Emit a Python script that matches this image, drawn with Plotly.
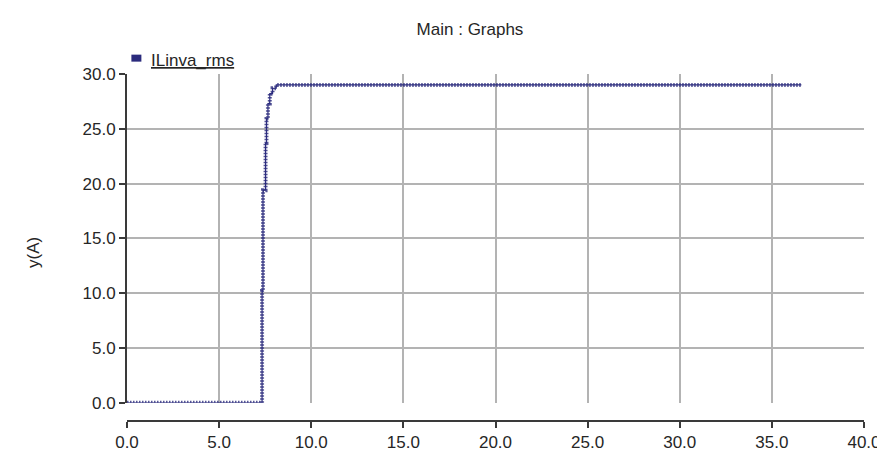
import plotly.graph_objects as go

# ---- data ----
t_s = [0.0, 7.33, 7.38, 7.52, 7.57, 7.65, 7.75, 7.9, 8.1, 36.6]
i_rms = [0.0, 10.2, 19.4, 23.7, 25.9, 27.3, 28.2, 28.7, 29.0, 29.0]
series_name = "ILinva_rms"
x_ticks = [0, 5, 10, 15, 20, 25, 30, 35, 40]
y_ticks = [0, 5, 10, 15, 20, 25, 30]

# ---- style ----
FONT = "Liberation Sans, Arial, sans-serif"
NAVY = "#2b2b7d"
TXT = "#262626"
GRID = "#b3b3b3"
AX = "#3a3a3a"

W, H = 885, 456
ML, MR, MT, MB = 119, 20, 66, 29
plot_h = H - MT - MB
y_dom0 = 19 / plot_h

def py(p):  # pixel y -> paper y
    return (H - MB - p) / plot_h

def px(p):  # pixel x -> paper x
    return (p - ML) / (W - ML - MR)

fig = go.Figure()
# hatched band look of the sampled signal
fig.add_trace(go.Scatter(x=t_s, y=i_rms, mode="lines", line_shape="hv",
                         line=dict(color=NAVY, width=4, dash="1.5px,1.5px"),
                         opacity=0.8, showlegend=False, hoverinfo="skip"))
fig.add_trace(go.Scatter(x=t_s, y=i_rms, mode="lines", line_shape="hv",
                         name=series_name,
                         line=dict(color=NAVY, width=1.2), showlegend=False))
# invisible trace to carry the detached x axis
fig.add_trace(go.Scatter(x=t_s, y=i_rms, xaxis="x2", mode="lines",
                         line=dict(width=0), opacity=0, showlegend=False,
                         hoverinfo="skip"))

tick_txt = [f"{v:.1f}" for v in x_ticks]
ytick_txt = [f"{v:.1f}" for v in y_ticks]

fig.update_layout(
    width=W, height=H,
    margin=dict(l=ML, r=MR, t=MT, b=MB),
    paper_bgcolor="white", plot_bgcolor="white",
    font=dict(family=FONT, size=17, color=TXT),
    title=dict(text="Main : Graphs", x=462 / W, xref="container", xanchor="center",
               y=1 - 21 / H, yref="container", yanchor="middle",
               font=dict(family=FONT, size=17, color=TXT)),
    xaxis=dict(range=[0, 40], tickvals=x_ticks, showticklabels=False, ticks="",
               showgrid=True, gridcolor=GRID, gridwidth=1.6, zeroline=False,
               showline=False, anchor="y"),
    xaxis2=dict(range=[0, 40], tickvals=x_ticks, ticktext=tick_txt, overlaying="x",
                anchor="free", position=0, side="bottom", showgrid=False,
                zeroline=False, showline=True, linecolor=AX, linewidth=2,
                ticks="outside", ticklen=6, tickwidth=1.5, tickcolor=AX,
                tickfont=dict(family=FONT, size=17, color=TXT)),
    yaxis=dict(range=[0, 30], domain=[y_dom0, 1], tickvals=y_ticks, ticktext=ytick_txt,
               showgrid=True, gridcolor=GRID, gridwidth=1.6, zeroline=False,
               showline=True, linecolor=AX, linewidth=2,
               ticks="outside", ticklen=6, tickwidth=1.5, tickcolor=AX,
               tickfont=dict(family=FONT, size=17, color=TXT)),
    showlegend=False,
)

# y axis title
fig.add_annotation(text="y(A)", xref="paper", yref="paper", x=px(25), y=py(252),
                   textangle=-90, showarrow=False, xanchor="center", yanchor="middle",
                   font=dict(family=FONT, size=17, color=TXT))
# legend: swatch + underlined name
fig.add_shape(type="rect", xref="paper", yref="paper", xsizemode="pixel", ysizemode="pixel",
              xanchor=px(128.5), yanchor=py(49.5), x0=-5, x1=5, y0=-3.5, y1=3.5,
              fillcolor=NAVY, line=dict(width=0))
fig.add_annotation(text=series_name, xref="paper", yref="paper", x=px(141), y=py(52),
                   showarrow=False, xanchor="left", yanchor="middle",
                   font=dict(family=FONT, size=17, color=TXT, lineposition="under"))

fig.write_html("out.html")
